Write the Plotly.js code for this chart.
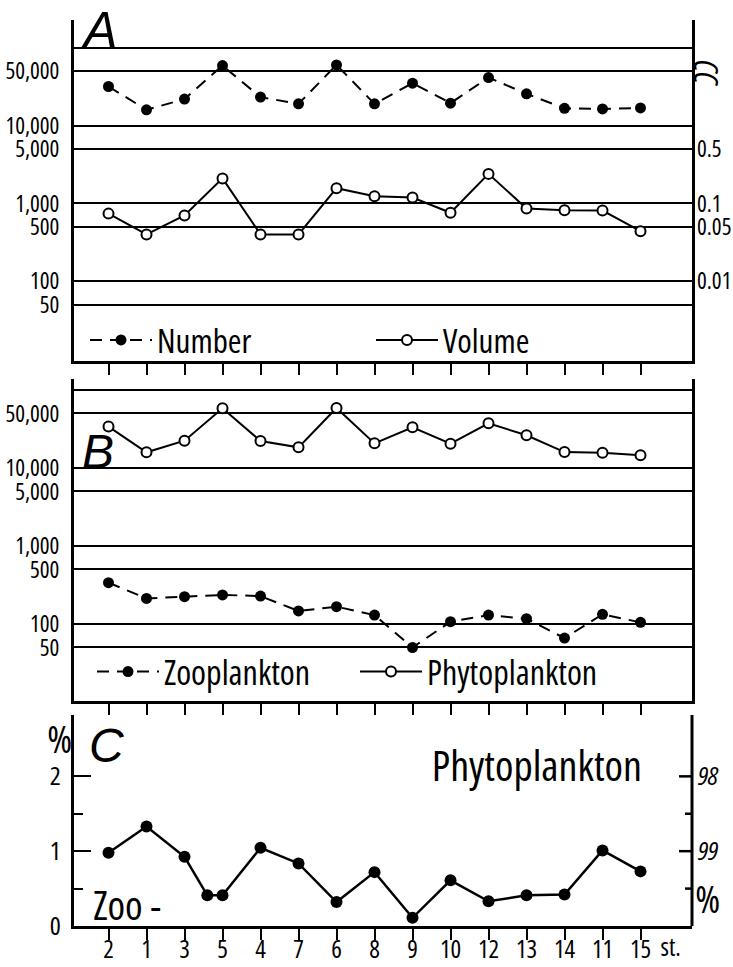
<!DOCTYPE html>
<html><head><meta charset="utf-8">
<script src="https://cdn.plot.ly/plotly-3.0.1.min.js"></script>
<style>
html,body{margin:0;padding:0;background:#fff}
#chart{width:733px;height:967px}
#chart svg text{font-stretch:75%}
</style>
</head><body><div id="chart"></div>
<script>
// ---- data ----
const stations = ['2','1','3','5','4','7','6','8','9','10','12','13','14','11','15'];
const stationIndex = [0,1,2,3,4,5,6,7,8,9,10,11,12,13,14];
// Panel A: total plankton (number per unit, volume in cc)
const numberA = [31900,16000,22000,59300,23300,19100,60500,19100,35200,19500,41600,25700,16700,16400,16900];
const volumeA = [0.074,0.040,0.070,0.21,0.040,0.040,0.157,0.124,0.119,0.076,0.24,0.086,0.082,0.081,0.044];
// Panel B
const phytoB = [34000,15900,22400,58200,22200,18400,58800,20700,33300,20500,37400,26300,16000,15700,14600];
const zooB = [339,213,224,236,228,147,167,130,50,107,130,117,66,133,105];
// Panel C: zooplankton percentage (left axis) / phytoplankton percentage (right axis)
const zooPctX = [0,1,2,2.6,3,4,5,6,7,8,9,10,11,12,13,14];
const zooPct = [0.98,1.33,0.925,0.41,0.41,1.045,0.836,0.32,0.72,0.11,0.61,0.33,0.41,0.42,1.01,0.73];
const phytoPct = [99.02,98.67,99.075,99.59,99.59,98.955,99.164,99.68,99.28,99.89,99.39,99.67,99.59,99.58,98.99,99.27];
// tick labels
const logTicks = [100000,50000,10000,5000,1000,500,100,50];
const logTickText = ['','50,000','10,000','5,000','1,000','500','100','50'];
const ccTicks = [0.5,0.1,0.05,0.01];
const ccTickText = ['0.5','0.1','0.05','0.01'];
const pctTicks = [0,1,2];
const pctTickText = ['0','1','2'];
const pctMinor = [0.5,1.5];
const phytoPctTicks = [98,99];
const phytoPctText = ['98','99'];
const phytoPctMinor = [98.5,99.5];

// ---- layout helpers ----
const W = 733, H = 967;
const px = v => v / W;
const py = v => 1 - v / H;
const NARROW = '"Open Sans", "DejaVu Sans Condensed", sans-serif';
const SERIFLET = '"Liberation Sans", sans-serif';
const BLACK = '#000';
const xDomain = [px(74), px(692)];
const xRange = [-0.908, 15.355];
const cDomain = [py(926), py(715)];
const dash = '12px,8px';
const plotWidthPx = 692 - 74;

function xAxis(anchor, labels) {
  return {
    domain: xDomain, range: xRange, anchor: anchor,
    tickvals: stationIndex, ticktext: stations,
    ticks: 'outside', ticklen: 11, tickwidth: 2, tickcolor: BLACK,
    showticklabels: labels, ticklabelstandoff: -12,
    tickfont: {family: NARROW, size: 25, color: BLACK},
    showline: true, linewidth: 3, linecolor: BLACK,
    showgrid: false, zeroline: false, fixedrange: true
  };
}
function logAxis(domain, range, anchor) {
  return {
    domain: domain, type: 'log', range: range, anchor: anchor,
    tickvals: logTicks, ticktext: logTickText,
    ticks: '', ticklabelstandoff: 7,
    tickfont: {family: NARROW, size: 23, color: BLACK},
    showgrid: true, gridcolor: BLACK, gridwidth: 2,
    showline: true, linewidth: 3, linecolor: BLACK, mirror: true,
    zeroline: false
  };
}

const traces = [
  {x: stationIndex, y: numberA, xaxis: 'x', yaxis: 'y', name: 'Number', legend: 'legend',
   mode: 'lines+markers', line: {color: BLACK, width: 2, dash: dash},
   marker: {color: BLACK, size: 11}},
  {x: stationIndex, y: volumeA, xaxis: 'x', yaxis: 'y4', name: 'Volume', legend: 'legend',
   mode: 'lines+markers', line: {color: BLACK, width: 2},
   marker: {color: '#fff', size: 10, line: {color: BLACK, width: 2}}},
  {x: stationIndex, y: zooB, xaxis: 'x2', yaxis: 'y2', name: 'Zooplankton', legend: 'legend2',
   mode: 'lines+markers', line: {color: BLACK, width: 2, dash: dash},
   marker: {color: BLACK, size: 11}},
  {x: stationIndex, y: phytoB, xaxis: 'x2', yaxis: 'y2', name: 'Phytoplankton', legend: 'legend2',
   mode: 'lines+markers', line: {color: BLACK, width: 2},
   marker: {color: '#fff', size: 10, line: {color: BLACK, width: 2}}},
  {x: zooPctX, y: phytoPct, xaxis: 'x4', yaxis: 'y5', name: 'Phyto %', showlegend: false,
   mode: 'lines', line: {color: BLACK, width: 2.5}, opacity: 0},
  {x: zooPctX, y: zooPct, xaxis: 'x3', yaxis: 'y3', name: 'Zoo %', showlegend: false,
   mode: 'lines+markers', line: {color: BLACK, width: 2.5},
   marker: {color: BLACK, size: 12}}
];

function ann(text, x, y, size, extra) {
  return Object.assign({text: text, x: px(x), y: py(y), xref: 'paper', yref: 'paper',
    showarrow: false, xanchor: 'center', yanchor: 'middle',
    font: {family: NARROW, size: size, color: BLACK}}, extra || {});
}
const letterFont = size => ({family: SERIFLET, size: size, color: BLACK, style: 'italic'});

// right-hand axis of panel C: line and inside ticks (same positions as the left-hand ticks)
function rightTick(v, len) {
  return {type: 'line', xref: 'x3 domain', yref: 'y3', x0: 1 - len / plotWidthPx, x1: 1, y0: v, y1: v,
          line: {color: BLACK, width: 2.5}, layer: 'above'};
}
const shapes = [
  {type: 'line', xref: 'x3 domain', yref: 'y3 domain', x0: 1, x1: 1, y0: 0, y1: 1,
   line: {color: BLACK, width: 3}, layer: 'above'}
].concat(pctTicks.filter(v => v > 0).map(v => rightTick(v, 13)), pctMinor.map(v => rightTick(v, 7)));

const layout = {
  width: W, height: H,
  margin: {l: 0, r: 0, t: 0, b: 0},
  paper_bgcolor: '#fff', plot_bgcolor: 'rgba(0,0,0,0)',
  showlegend: true,
  xaxis: xAxis('y', false),
  xaxis2: xAxis('y2', false),
  xaxis3: xAxis('y3', true),
  xaxis4: {domain: xDomain, range: xRange, anchor: 'y5', visible: false, fixedrange: true},
  yaxis: logAxis([py(361), py(20)], [0.974, 5.359], 'x'),
  yaxis2: logAxis([py(701), py(379)], [1.013, 5.141], 'x2'),
  yaxis3: {
    domain: cDomain, range: [0, 2.82], anchor: 'x3',
    tickvals: pctTicks, ticktext: pctTickText,
    ticks: 'inside', ticklen: 17, tickwidth: 2, tickcolor: BLACK,
    minor: {tickvals: pctMinor, ticks: 'inside', ticklen: 9, tickwidth: 2, tickcolor: BLACK},
    ticklabelstandoff: 5,
    tickfont: {family: NARROW, size: 26, color: BLACK},
    showline: true, linewidth: 3, linecolor: BLACK,
    showgrid: false, zeroline: false
  },
  yaxis4: {
    overlaying: 'y', side: 'right', anchor: 'x', type: 'log',
    range: [0.974 - 4, 5.359 - 4],
    tickvals: ccTicks, ticktext: ccTickText, ticks: '', ticklabelstandoff: 4,
    tickfont: {family: NARROW, size: 23, color: BLACK},
    showgrid: false, showline: false, zeroline: false
  },
  yaxis5: {
    domain: cDomain, side: 'right', anchor: 'x4',
    range: [100, 97.18],
    tickvals: phytoPctTicks, ticktext: phytoPctText,
    ticks: '', ticklabelstandoff: 5,
    tickfont: {family: NARROW, size: 26, color: BLACK, style: 'italic'},
    showline: false, showgrid: false, zeroline: false
  },
  shapes: shapes,
  legend: {
    x: px(85), y: py(340), xanchor: 'left', yanchor: 'middle',
    orientation: 'h', itemwidth: 62, entrywidth: 209, entrywidthmode: 'pixels',
    font: {family: NARROW, size: 33, color: BLACK}, bgcolor: 'rgba(0,0,0,0)',
    traceorder: 'normal'
  },
  legend2: {
    x: px(92), y: py(672), xanchor: 'left', yanchor: 'middle',
    orientation: 'h', itemwidth: 62, entrywidth: 186, entrywidthmode: 'pixels',
    font: {family: NARROW, size: 34, color: BLACK}, bgcolor: 'rgba(0,0,0,0)',
    traceorder: 'normal'
  },
  annotations: [
    ann('A', 99, 30, 50, {font: letterFont(50)}),
    ann('B', 98, 452, 48, {font: letterFont(48)}),
    ann('C', 106, 745, 48, {font: letterFont(48)}),
    ann('CC', 706, 73, 32, {textangle: 90, font: {family: NARROW, size: 32, color: BLACK, style: 'italic'}}),
    ann('%', 59, 738, 38),
    ann('%', 707, 898, 38),
    ann('Phytoplankton', 537, 764, 42),
    ann('Zoo -', 127, 904, 40),
    ann('st.', 655, 946, 25, {xanchor: 'left'})
  ]
};

Plotly.newPlot('chart', traces, layout, {staticPlot: true, displayModeBar: false});
</script>
</body></html>
